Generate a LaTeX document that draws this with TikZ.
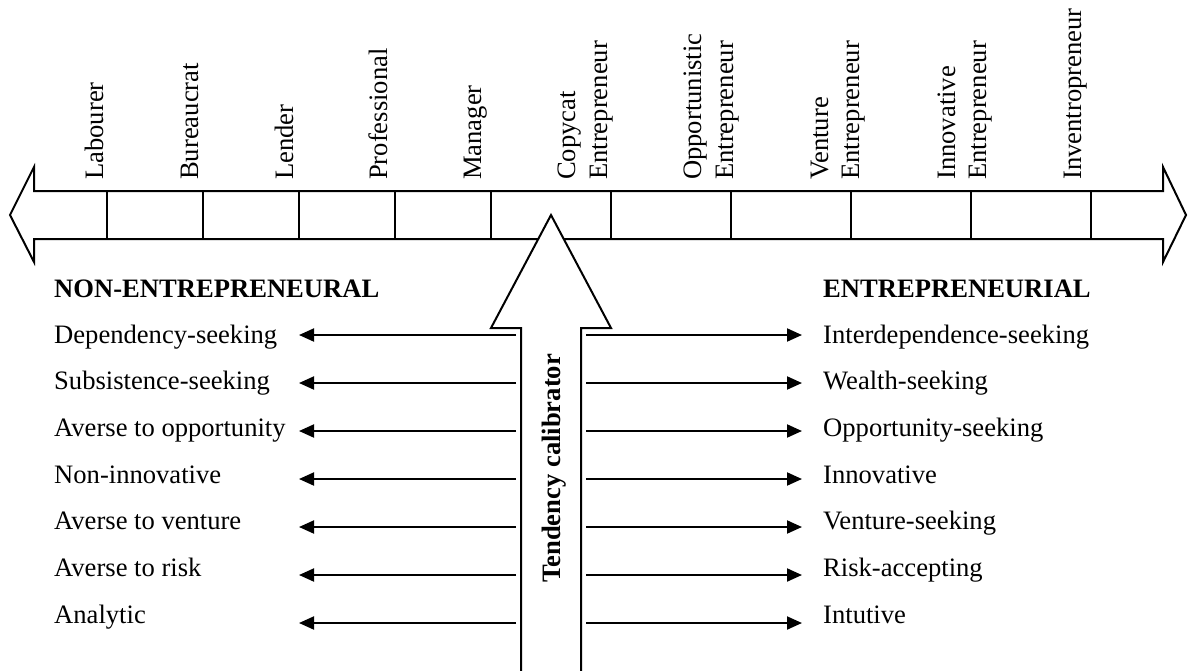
\documentclass[tikz,border=0pt]{standalone}
\usepackage{fontspec}
\setmainfont{Liberation Serif}
\usetikzlibrary{arrows.meta}
\begin{document}
\begin{tikzpicture}[x=1pt,y=-1pt,
  font=\fontsize{26.6}{32}\selectfont,
  ln/.style={line width=2pt},
  toplab/.style={rotate=90,anchor=base west,inner sep=0pt},
  rowlab/.style={anchor=base west,inner sep=0pt},
  hdr/.style={anchor=base west,inner sep=0pt,font=\fontsize{26.6}{32}\selectfont\bfseries},
  harrow/.style={line width=2pt,-{Triangle[length=15pt,width=13pt]}}]
\useasboundingbox (0,0) rectangle (1188,670);
% main double arrow
\draw[ln,line join=miter] (10,215) -- (34,167) -- (34,191) -- (1163,191) -- (1163,167) -- (1186,215)
  -- (1163,262) -- (1163,239) -- (34,239) -- (34,262) -- cycle;
\foreach \x in {107,203,299,395,491,611,731,851,971,1091}
  \draw[ln] (\x,191) -- (\x,239);
% top labels
\node[toplab] (l1) at (103,180) {Labourer};
\node[toplab] (l2) at (198,180) {Bureaucrat};
\node[toplab] (l3) at (293,180) {Lender};
\node[toplab] (l4) at (387,180) {Professional};
\node[toplab] (l5) at (481,180) {Manager};
\node[toplab] (l6a) at (575,180) {Copycat};
\node[toplab] (l6b) at (607,180) {Entrepreneur};
\node[toplab] (l7a) at (701,180) {Opportunistic};
\node[toplab] (l7b) at (733,180) {Entrepreneur};
\node[toplab] (l8a) at (828,180) {Venture};
\node[toplab] (l8b) at (859,180) {Entrepreneur};
\node[toplab] (l9a) at (955,180) {Innovative};
\node[toplab] (l9b) at (986,180) {Entrepreneur};
\node[toplab] (l10) at (1081,180) {Inventropreneur};
% calibrator arrow
\draw[ln,fill=white,line join=miter] (521,672) -- (521,328) -- (491,328) -- (551,215) -- (611,328) -- (581,328) -- (581,672);
\node[toplab,font=\fontsize{26.6}{32}\selectfont\bfseries] (cal) at (560,583) {Tendency calibrator};
% headers
\node[hdr] (hl) at (54,297) {NON-ENTREPRENEURAL};
\node[hdr] (hr) at (823,297) {ENTREPRENEURIAL};
% rows
\foreach \i/\lt/\rt in {0/Dependency-seeking/Interdependence-seeking,
  1/Subsistence-seeking/Wealth-seeking,
  2/Averse to opportunity/Opportunity-seeking,
  3/Non-innovative/Innovative,
  4/Averse to venture/Venture-seeking,
  5/Averse to risk/Risk-accepting,
  6/Analytic/Intutive}{
  \pgfmathsetmacro{\ya}{335+48*\i}
  \pgfmathsetmacro{\yb}{343+46.7*\i}
  \node[rowlab] (L\i) at (54,\yb) {\lt};
  \node[rowlab] (R\i) at (823,\yb) {\rt};
  \coordinate (ls\i) at (516,\ya);
  \coordinate (le\i) at (299,\ya);
  \coordinate (rs\i) at (586,\ya);
  \coordinate (re\i) at (802,\ya);
  \draw[harrow] (ls\i) -- (le\i);
  \draw[harrow] (rs\i) -- (re\i);
}
\end{tikzpicture}
\end{document}
